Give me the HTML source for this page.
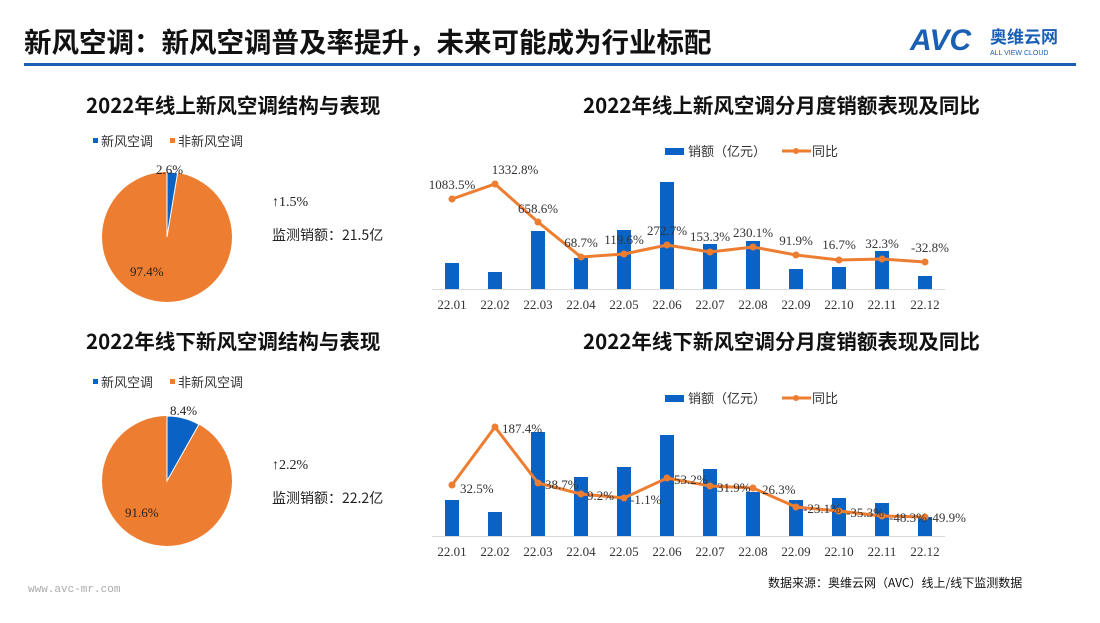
<!DOCTYPE html><html><head><meta charset="utf-8"><style>
body{margin:0;width:1100px;height:618px;background:#fff;overflow:hidden;font-family:"Liberation Sans","Noto Sans CJK SC",sans-serif}
svg text{font-family:"Liberation Serif","Noto Serif CJK SC",serif}
</style></head><body>
<svg width="1100" height="618" viewBox="0 0 1100 618">
<text x="24" y="52" font-size="27.5" font-weight="bold" fill="#111" style="font-family:'Noto Sans CJK SC',sans-serif">新风空调：新风空调普及率提升，未来可能成为行业标配</text>
<text x="910" y="50" font-size="30" font-weight="bold" font-style="italic" fill="#1a5fb4" style="font-family:'Liberation Sans',sans-serif">AVC</text>
<text x="990" y="43" font-size="17" font-weight="bold" fill="#1a5fb4" style="font-family:'Noto Sans CJK SC',sans-serif">奥维云网</text>
<text x="990" y="55" font-size="7" fill="#1a5fb4" style="font-family:'Liberation Sans',sans-serif">ALL VIEW CLOUD</text>
<rect x="24" y="63" width="1052" height="3" fill="#1a5fb4"/>
<g font-weight="bold" font-size="20.5" fill="#111">
<text x="86" y="113" style="font-family:'Noto Sans CJK SC',sans-serif">2022年线上新风空调结构与表现</text>
<text x="583" y="113" style="font-family:'Noto Sans CJK SC',sans-serif">2022年线上新风空调分月度销额表现及同比</text>
<text x="86" y="349" style="font-family:'Noto Sans CJK SC',sans-serif">2022年线下新风空调结构与表现</text>
<text x="583" y="349" style="font-family:'Noto Sans CJK SC',sans-serif">2022年线下新风空调分月度销额表现及同比</text>
</g>
<g font-size="13" fill="#333">
<rect x="93" y="138" width="5" height="5" fill="#0a63c4"/><text x="101" y="146" style="font-family:'Noto Sans CJK SC',sans-serif">新风空调</text>
<rect x="170" y="138" width="5" height="5" fill="#ed7d31"/><text x="178" y="146" style="font-family:'Noto Sans CJK SC',sans-serif">非新风空调</text>
<rect x="93" y="379" width="5" height="5" fill="#0a63c4"/><text x="101" y="387" style="font-family:'Noto Sans CJK SC',sans-serif">新风空调</text>
<rect x="170" y="379" width="5" height="5" fill="#ed7d31"/><text x="178" y="387" style="font-family:'Noto Sans CJK SC',sans-serif">非新风空调</text>
</g>
<circle cx="167" cy="237" r="65" fill="#ed7d31"/>
<path d="M167 237 L167 172 A65 65 0 0 1 177.6 172.9 Z" fill="#0a63c4" stroke="#fff"/>
<circle cx="167" cy="481" r="65" fill="#ed7d31"/>
<path d="M167 481 L167 416 A65 65 0 0 1 198.9 424.4 Z" fill="#0a63c4" stroke="#fff"/>
<g font-size="13" fill="#222">
<text x="156" y="174">2.6%</text><text x="130" y="276">97.4%</text>
<text x="170" y="415">8.4%</text><text x="125" y="517">91.6%</text>
<text x="272" y="206" font-size="14">↑1.5%</text>
<text x="272" y="240" font-size="14" style="font-family:'Noto Sans CJK SC',sans-serif">监测销额：21.5亿</text>
<text x="272" y="469" font-size="14">↑2.2%</text>
<text x="272" y="503" font-size="14" style="font-family:'Noto Sans CJK SC',sans-serif">监测销额：22.2亿</text>
</g>
<g font-size="13" fill="#333">
<rect x="665" y="148" width="19" height="7" fill="#0a63c4"/><text x="688" y="156" style="font-family:'Noto Sans CJK SC',sans-serif">销额（亿元）</text>
<line x1="782" y1="151" x2="811" y2="151" stroke="#ed7d31" stroke-width="3"/><circle cx="796" cy="151" r="3" fill="#ed7d31"/><text x="812" y="156" style="font-family:'Noto Sans CJK SC',sans-serif">同比</text>
<rect x="665" y="395" width="19" height="7" fill="#0a63c4"/><text x="688" y="403" style="font-family:'Noto Sans CJK SC',sans-serif">销额（亿元）</text>
<line x1="782" y1="398" x2="811" y2="398" stroke="#ed7d31" stroke-width="3"/><circle cx="796" cy="398" r="3" fill="#ed7d31"/><text x="812" y="403" style="font-family:'Noto Sans CJK SC',sans-serif">同比</text>
</g>
<line x1="432" y1="289.5" x2="945" y2="289.5" stroke="#d9d9d9"/>
<line x1="432" y1="536.5" x2="945" y2="536.5" stroke="#d9d9d9"/>
<g fill="#0a63c4">
<rect x="445" y="263" width="14" height="26"/><rect x="488" y="272" width="14" height="17"/><rect x="531" y="231" width="14" height="58"/><rect x="574" y="258" width="14" height="31"/><rect x="617" y="230" width="14" height="59"/><rect x="660" y="182" width="14" height="107"/><rect x="703" y="244" width="14" height="45"/><rect x="746" y="241" width="14" height="48"/><rect x="789" y="269" width="14" height="20"/><rect x="832" y="267" width="14" height="22"/><rect x="875" y="251" width="14" height="38"/><rect x="918" y="276" width="14" height="13"/>
<rect x="445" y="500" width="14" height="36"/><rect x="488" y="512" width="14" height="24"/><rect x="531" y="432" width="14" height="104"/><rect x="574" y="477" width="14" height="59"/><rect x="617" y="467" width="14" height="69"/><rect x="660" y="435" width="14" height="101"/><rect x="703" y="469" width="14" height="67"/><rect x="746" y="492" width="14" height="44"/><rect x="789" y="500" width="14" height="36"/><rect x="832" y="498" width="14" height="38"/><rect x="875" y="503" width="14" height="33"/><rect x="918" y="517" width="14" height="19"/>
</g>
<g fill="none" stroke="#ed7d31" stroke-width="3">
<polyline points="452,199 495,184 538,222 581,257 624,254 667,245 710,252 753,247 796,255 839,260 882,259 925,262"/>
<polyline points="452,485 495,427 538,483 581,494 624,498 667,478 710,486 753,488 796,507 839,511 882,516 925,517"/>
</g>
<g fill="#ed7d31">
<circle cx="452" cy="199" r="3.5"/><circle cx="495" cy="184" r="3.5"/><circle cx="538" cy="222" r="3.5"/><circle cx="581" cy="257" r="3.5"/><circle cx="624" cy="254" r="3.5"/><circle cx="667" cy="245" r="3.5"/><circle cx="710" cy="252" r="3.5"/><circle cx="753" cy="247" r="3.5"/><circle cx="796" cy="255" r="3.5"/><circle cx="839" cy="260" r="3.5"/><circle cx="882" cy="259" r="3.5"/><circle cx="925" cy="262" r="3.5"/>
<circle cx="452" cy="485" r="3.5"/><circle cx="495" cy="427" r="3.5"/><circle cx="538" cy="483" r="3.5"/><circle cx="581" cy="494" r="3.5"/><circle cx="624" cy="498" r="3.5"/><circle cx="667" cy="478" r="3.5"/><circle cx="710" cy="486" r="3.5"/><circle cx="753" cy="488" r="3.5"/><circle cx="796" cy="507" r="3.5"/><circle cx="839" cy="511" r="3.5"/><circle cx="882" cy="516" r="3.5"/><circle cx="925" cy="517" r="3.5"/>
</g>
<g font-size="13" fill="#333" text-anchor="middle">
<text x="452" y="189">1083.5%</text><text x="515" y="174">1332.8%</text><text x="538" y="213">658.6%</text><text x="581" y="247">68.7%</text><text x="624" y="244">119.6%</text><text x="667" y="235">272.7%</text><text x="710" y="241">153.3%</text><text x="753" y="237">230.1%</text><text x="796" y="245">91.9%</text><text x="839" y="249">16.7%</text><text x="882" y="248">32.3%</text><text x="930" y="252">-32.8%</text>
</g>
<g font-size="13" fill="#333">
<text x="460" y="493">32.5%</text><text x="502" y="433">187.4%</text><text x="545" y="489">38.7%</text><text x="587" y="500">9.2%</text><text x="630" y="504">-1.1%</text><text x="674" y="484">53.2%</text><text x="717" y="492">31.9%</text><text x="762" y="494">26.3%</text><text x="803" y="513">-23.1%</text><text x="846" y="517">-35.3%</text><text x="889" y="522">-48.3%</text><text x="928" y="522">-49.9%</text>
</g>
<g font-size="13" fill="#333" text-anchor="middle">
<text x="452" y="309">22.01</text><text x="495" y="309">22.02</text><text x="538" y="309">22.03</text><text x="581" y="309">22.04</text><text x="624" y="309">22.05</text><text x="667" y="309">22.06</text><text x="710" y="309">22.07</text><text x="753" y="309">22.08</text><text x="796" y="309">22.09</text><text x="839" y="309">22.10</text><text x="882" y="309">22.11</text><text x="925" y="309">22.12</text>
<text x="452" y="556">22.01</text><text x="495" y="556">22.02</text><text x="538" y="556">22.03</text><text x="581" y="556">22.04</text><text x="624" y="556">22.05</text><text x="667" y="556">22.06</text><text x="710" y="556">22.07</text><text x="753" y="556">22.08</text><text x="796" y="556">22.09</text><text x="839" y="556">22.10</text><text x="882" y="556">22.11</text><text x="925" y="556">22.12</text>
</g>
<text x="28" y="592" font-size="11" fill="#aaa" style="font-family:'Liberation Mono',monospace">www.avc-mr.com</text>
<text x="768" y="587" font-size="12" fill="#111" style="font-family:'Noto Sans CJK SC',sans-serif">数据来源：奥维云网（AVC）线上/线下监测数据</text>
</svg></body></html>
